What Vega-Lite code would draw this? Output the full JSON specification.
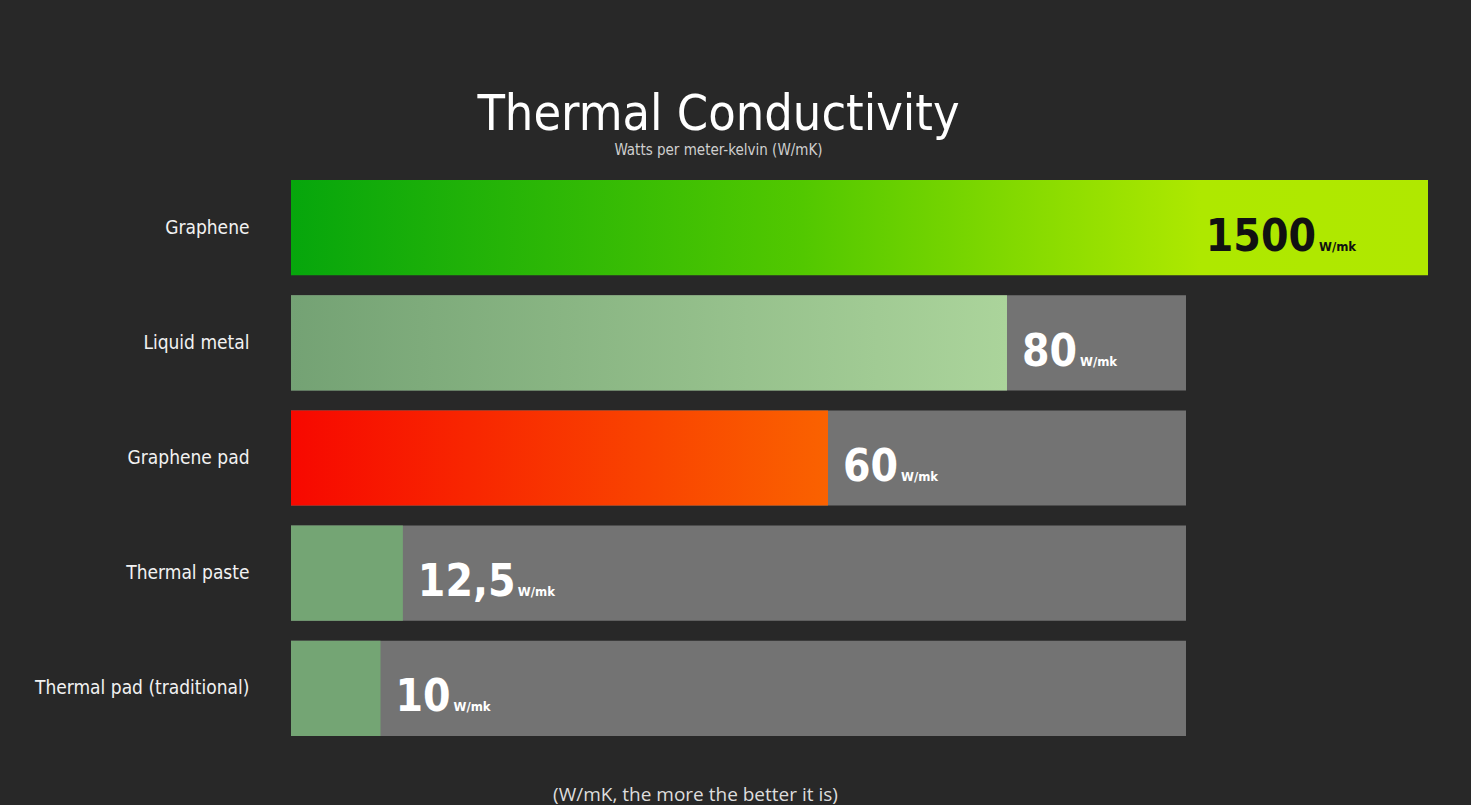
{
  "$schema": "https://vega.github.io/schema/vega-lite/v6.json",
  "width": 1137,
  "height": 576,
  "autosize": {"type": "none"},
  "padding": {"left": 291, "top": 170, "right": 43, "bottom": 59},
  "background": "#282828",
  "title": {
    "text": "Thermal Conductivity",
    "subtitle": "Watts per meter-kelvin (W/mK)",
    "font": "DejaVu Sans Condensed, sans-serif",
    "fontSize": 50,
    "fontWeight": "normal",
    "color": "#ffffff",
    "subtitleFont": "DejaVu Sans Condensed, sans-serif",
    "subtitleFontSize": 15,
    "subtitleColor": "#cfcfcf",
    "subtitlePadding": 3,
    "anchor": "middle",
    "frame": "group",
    "dx": -141,
    "offset": 12
  },
  "data": {
    "values": [
      {"name": "Graphene", "value": 1500, "label": "1500"},
      {"name": "Liquid metal", "value": 80, "label": "80"},
      {"name": "Graphene pad", "value": 60, "label": "60"},
      {"name": "Thermal paste", "value": 12.5, "label": "12,5"},
      {"name": "Thermal pad (traditional)", "value": 10, "label": "10"}
    ]
  },
  "encoding": {
    "y": {
      "field": "name",
      "type": "nominal",
      "sort": ["Graphene", "Liquid metal", "Graphene pad", "Thermal paste", "Thermal pad (traditional)"],
      "scale": {"paddingInner": 0.1735, "paddingOuter": 0.087},
      "axis": {
        "title": null,
        "ticks": false,
        "domain": false,
        "labelFont": "DejaVu Sans Condensed, sans-serif",
        "labelFontSize": 19,
        "labelColor": "#f2f2f2",
        "labelPadding": 42,
        "labelLimit": 400
      }
    }
  },
  "layer": [
    {
      "transform": [{"filter": "datum.value <= 100"}],
      "mark": {"type": "bar", "color": "#737373"},
      "encoding": {
        "x": {
          "datum": 100,
          "type": "quantitative",
          "scale": {"domain": [0, 127.04], "nice": false, "clamp": true},
          "axis": {
            "title": "(W/mK, the more the better it is)",
            "labels": false,
            "ticks": false,
            "domain": false,
            "grid": false,
            "titleFont": "Open Sans",
            "titleFontSize": 19,
            "titleFontWeight": "normal",
            "titleColor": "#dddddd",
            "titleX": 404,
            "titleY": 54,
            "titleBaseline": "alphabetic",
            "titleAlign": "center"
          }
        }
      }
    },
    {
      "transform": [{"filter": "datum.name === 'Graphene'"}],
      "mark": {
        "type": "bar",
        "color": {
          "gradient": "linear",
          "x1": 0, "y1": 0, "x2": 1, "y2": 0,
          "stops": [
            {"offset": 0, "color": "#06a60c"},
            {"offset": 0.45, "color": "#52c800"},
            {"offset": 0.8, "color": "#aee800"},
            {"offset": 1, "color": "#b0e800"}
          ]
        }
      },
      "encoding": {"x": {"field": "value", "type": "quantitative"}}
    },
    {
      "transform": [{"filter": "datum.name === 'Liquid metal'"}],
      "mark": {
        "type": "bar",
        "color": {
          "gradient": "linear",
          "x1": 0, "y1": 0, "x2": 1, "y2": 0,
          "stops": [
            {"offset": 0, "color": "#74a274"},
            {"offset": 1, "color": "#abd49b"}
          ]
        }
      },
      "encoding": {"x": {"field": "value", "type": "quantitative"}}
    },
    {
      "transform": [{"filter": "datum.name === 'Graphene pad'"}],
      "mark": {
        "type": "bar",
        "color": {
          "gradient": "linear",
          "x1": 0, "y1": 0, "x2": 1, "y2": 0,
          "stops": [
            {"offset": 0, "color": "#f70800"},
            {"offset": 1, "color": "#fa6200"}
          ]
        }
      },
      "encoding": {"x": {"field": "value", "type": "quantitative"}}
    },
    {
      "transform": [{"filter": "datum.value < 50"}],
      "mark": {"type": "bar", "color": "#74a574"},
      "encoding": {"x": {"field": "value", "type": "quantitative"}}
    },
    {
      "transform": [{"filter": "datum.value <= 100"}],
      "mark": {
        "type": "text",
        "align": "left",
        "baseline": "alphabetic",
        "dx": 15,
        "dy": 23,
        "font": "DejaVu Sans Condensed, sans-serif",
        "fontSize": 44,
        "fontWeight": "bold",
        "color": "#ffffff"
      },
      "encoding": {
        "x": {"field": "value", "type": "quantitative"},
        "text": {"field": "label"}
      }
    },
    {
      "transform": [{"filter": "datum.value <= 100 && length(datum.label) == 2"}],
      "mark": {
        "type": "text",
        "align": "left",
        "baseline": "alphabetic",
        "dx": 73,
        "dy": 23,
        "font": "DejaVu Sans Condensed, sans-serif",
        "fontSize": 13,
        "fontWeight": "bold",
        "color": "#ffffff"
      },
      "encoding": {
        "x": {"field": "value", "type": "quantitative"},
        "text": {"value": "W/mk"}
      }
    },
    {
      "transform": [{"filter": "datum.value <= 100 && length(datum.label) == 4"}],
      "mark": {
        "type": "text",
        "align": "left",
        "baseline": "alphabetic",
        "dx": 115,
        "dy": 23,
        "font": "DejaVu Sans Condensed, sans-serif",
        "fontSize": 13,
        "fontWeight": "bold",
        "color": "#ffffff"
      },
      "encoding": {
        "x": {"field": "value", "type": "quantitative"},
        "text": {"value": "W/mk"}
      }
    },
    {
      "transform": [{"filter": "datum.value > 100"}],
      "mark": {
        "type": "text",
        "align": "right",
        "baseline": "alphabetic",
        "dx": -112,
        "dy": 23,
        "font": "DejaVu Sans Condensed, sans-serif",
        "fontSize": 44,
        "fontWeight": "bold",
        "color": "#111111"
      },
      "encoding": {
        "x": {"field": "value", "type": "quantitative"},
        "text": {"field": "label"}
      }
    },
    {
      "transform": [{"filter": "datum.value > 100"}],
      "mark": {
        "type": "text",
        "align": "left",
        "baseline": "alphabetic",
        "dx": -109,
        "dy": 23,
        "font": "DejaVu Sans Condensed, sans-serif",
        "fontSize": 13,
        "fontWeight": "bold",
        "color": "#111111"
      },
      "encoding": {
        "x": {"field": "value", "type": "quantitative"},
        "text": {"value": "W/mk"}
      }
    }
  ],
  "config": {"view": {"stroke": null}}
}
